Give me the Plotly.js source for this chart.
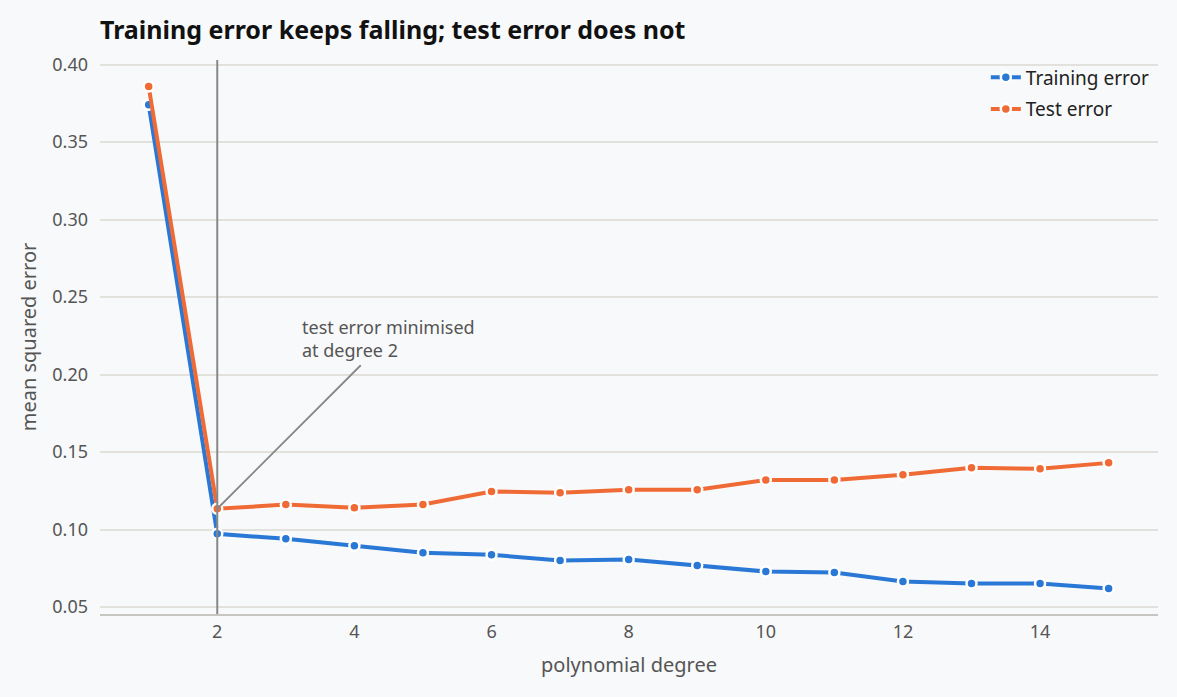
<!DOCTYPE html>
<html>
<head>
<meta charset="utf-8">
<script src="https://cdn.plot.ly/plotly-3.0.1.min.js"></script>
<style>
  html, body { margin: 0; padding: 0; background: #f8f9fa; }
  #chart { width: 1177px; height: 697px; }
</style>
</head>
<body>
<div id="chart"></div>
<script>
var degrees = [1, 2, 3, 4, 5, 6, 7, 8, 9, 10, 11, 12, 13, 14, 15];
var trainError = [0.374, 0.0972, 0.0940, 0.0895, 0.0850, 0.0837, 0.0800, 0.0806, 0.0768, 0.0729, 0.0723, 0.0665, 0.0652, 0.0652, 0.0620];
var testError = [0.3858, 0.1134, 0.1161, 0.1140, 0.1161, 0.1245, 0.1237, 0.1256, 0.1256, 0.1320, 0.1320, 0.1353, 0.1398, 0.1392, 0.1430];
var bestDegree = 2;
var bestTest = testError[1];

var fontFam = '"Noto Sans", "Open Sans", sans-serif';

var trace1 = {
    type: 'scatter',
    mode: 'lines+markers',
    name: 'Training error',
    legendgroup: 'train',
    x: degrees,
    y: trainError,
    line: {color: '#2a78d6', width: 4},
    marker: {color: '#2a78d6', size: 10, line: {color: '#ffffff', width: 2.5}}
};

var trace2 = {
    type: 'scatter',
    mode: 'lines+markers',
    name: 'Test error',
    legendgroup: 'test',
    x: degrees,
    y: testError,
    line: {color: '#ef6a35', width: 4},
    marker: {color: '#ef6a35', size: 10, line: {color: '#ffffff', width: 2.5}}
};

var layout = {
    width: 1177,
    height: 697,
    paper_bgcolor: '#f8f9fa',
    plot_bgcolor: '#f8f9fa',
    font: {family: fontFam, color: '#555', size: 18},
    margin: {l: 100, r: 19, t: 60, b: 83},
    title: {
        text: 'Training error keeps falling; test error does not',
        font: {family: fontFam, size: 25, color: '#111', weight: 'bold'},
        x: 100 / 1177,
        xanchor: 'left',
        y: 0.957,
        yanchor: 'middle'
    },
    xaxis: {
        range: [0.29, 15.72],
        tick0: 0,
        dtick: 2,
        showgrid: false,
        zeroline: false,
        showline: true,
        linecolor: '#c8c6c0',
        linewidth: 2,
        ticks: '',
        tickfont: {size: 18, color: '#555'},
        title: {text: 'polynomial degree', font: {size: 20, color: '#555'}, standoff: 16}
    },
    yaxis: {
        range: [0.0455, 0.4029],
        dtick: 0.05,
        tickformat: '.2f',
        showgrid: true,
        gridcolor: '#e2e1dc',
        gridwidth: 1.5,
        zeroline: false,
        showline: false,
        ticks: '',
        ticklabelstandoff: 11,
        tickfont: {size: 18, color: '#555'},
        title: {text: 'mean squared error', font: {size: 20, color: '#555'}, standoff: 10}
    },
    legend: {
        x: 0.997,
        xanchor: 'right',
        y: 1.003,
        yanchor: 'top',
        bgcolor: 'rgba(0,0,0,0)',
        tracegroupgap: 4,
        font: {size: 19, color: '#222'}
    },
    shapes: [{
        type: 'line',
        xref: 'x', yref: 'paper',
        x0: bestDegree, x1: bestDegree,
        y0: 0, y1: 1,
        line: {color: '#888', width: 2}
    }],
    annotations: [
        {
            xref: 'x', yref: 'y',
            x: bestDegree, y: bestTest,
            ax: 145, ay: -145,
            text: '',
            showarrow: true,
            arrowhead: 0,
            arrowwidth: 1.8,
            arrowcolor: '#888',
            standoff: 0
        },
        {
            xref: 'x', yref: 'y',
            x: 3.2, y: 0.2395,
            xanchor: 'left', yanchor: 'top',
            align: 'left',
            text: 'test error minimised<br>at degree 2',
            showarrow: false,
            font: {size: 18, color: '#555'}
        }
    ]
};

Plotly.newPlot('chart', [trace1, trace2], layout, {displayModeBar: false});
</script>
</body>
</html>
